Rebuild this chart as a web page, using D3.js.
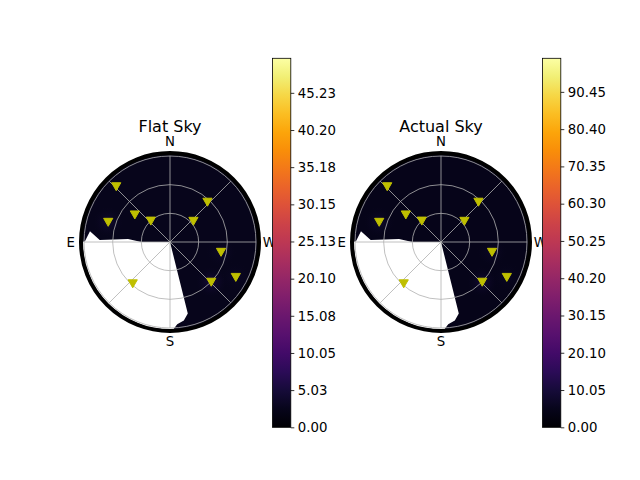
<!DOCTYPE html>
<html>
<head>
<meta charset="utf-8">
<script src="https://cdn.jsdelivr.net/npm/d3@7"></script>
<style>
  body { margin: 0; background: #fff; }
  text { font-family: "DejaVu Sans", sans-serif; fill: #000; }
</style>
</head>
<body>
<svg id="chart" width="640" height="480"></svg>
<script>
// star positions (azimuth deg from N through E, zenith angle deg)
const starAz  = [44, 317, 52, 72, 42, 312, 259, 242, 226, 138];
const starZen = [81, 57.5, 46.7, 68, 30, 33, 54.4, 78, 60, 58.3];

// obstructed horizon (white, no data) polygon, [azimuth, zenith]
const maskAz  = [0, 90, 86, 88.4, 82.3, 89.5, 90, 105, 120, 135, 150, 165, 180, 182, 185, 190, 194, 194];
const maskZen = [0, 30, 44, 73.6, 84.5, 89, 92, 92, 92, 92, 92, 92, 92, 92, 86.5, 83.5, 77, 0];

// panels
const titles   = ["Flat Sky", "Actual Sky"];
const vmax     = [49.9, 99.5];
const skyLevel = [2.4, 4.4];            // mean sky value in each map
const glowLevel = [                     // local brightening around stars
  [0, 0, 0, 4.5, 0, 0, 3.8, 3.2, 5.5, 0],
  [0, 0, 0, 8.5, 0, 0, 7, 6, 10, 0]
];
const cbTicks = [
  ["0.00", "5.03", "10.05", "15.08", "20.10", "25.13", "30.15", "35.18", "40.20", "45.23"],
  ["0.00", "10.05", "20.10", "30.15", "40.20", "50.25", "60.30", "70.35", "80.40", "90.45"]
];
const cardinals = [["N", 0], ["E", 90], ["S", 180], ["W", 270]];
const rGrid = [30, 60, 90];
const thetaGrid = [0, 45, 90, 135, 180, 225, 270, 315];

const svg = d3.select("#chart");
const defs = svg.append("defs");

const centers = [[170, 242], [441, 242]];
const cbX = [272.5, 542.5], cbW = 18.3, cbTop = 58.3, cbBottom = 427.3;

const r = d3.scaleLinear([0, 90], [0, 86]);
// screen angle for d3 radial generators: 0 = up, clockwise; E is on the left
const ang = az => -az * Math.PI / 180;
const px = (az, zen) => r(zen) * Math.sin(ang(az));
const py = (az, zen) => -r(zen) * Math.cos(ang(az));

titles.forEach((title, i) => {
  const color = d3.scaleSequential([0, vmax[i]], d3.interpolateInferno);
  const g = svg.append("g").attr("transform", `translate(${centers[i]})`);

  // sky map
  g.append("circle").attr("r", 89).attr("fill", color(skyLevel[i]));

  starAz.forEach((az, k) => {
    if (!glowLevel[i][k]) return;
    const id = `glow${i}_${k}`;
    const grad = defs.append("radialGradient").attr("id", id);
    grad.append("stop").attr("offset", "0%").attr("stop-color", color(glowLevel[i][k])).attr("stop-opacity", 0.9);
    grad.append("stop").attr("offset", "100%").attr("stop-color", color(skyLevel[i])).attr("stop-opacity", 0);
    g.append("circle")
      .attr("cx", px(az, starZen[k])).attr("cy", py(az, starZen[k]))
      .attr("r", 16).attr("fill", `url(#${id})`);
  });

  // masked region
  const maskLine = d3.lineRadial()
    .angle(d => ang(d[0]))
    .radius(d => r(d[1]))
    .curve(d3.curveLinearClosed);
  g.append("path")
    .attr("d", maskLine(d3.zip(maskAz, maskZen)))
    .attr("fill", "#fff");

  // grid
  g.append("g").selectAll("circle").data(rGrid).join("circle")
    .attr("r", d => r(d)).attr("fill", "none")
    .attr("stroke", "#b0b0b0").attr("stroke-width", 0.8);
  g.append("g").selectAll("line").data(thetaGrid).join("line")
    .attr("x2", d => px(d, 90)).attr("y2", d => py(d, 90))
    .attr("stroke", "#b0b0b0").attr("stroke-width", 0.8);

  // spine
  g.append("circle").attr("r", 89).attr("fill", "none")
    .attr("stroke", "#000").attr("stroke-width", 4);

  // stars
  g.append("g").selectAll("path").data(d3.zip(starAz, starZen)).join("path")
    .attr("transform", d => `translate(${px(d[0], d[1])},${py(d[0], d[1])})`)
    .attr("d", "M-4.6,-3.6L4.6,-3.6L0,4.4Z")
    .attr("fill", "#bfbf00").attr("stroke", "#bfbf00").attr("stroke-width", 1)
    .attr("stroke-linejoin", "miter");

  // cardinal labels
  g.append("g").selectAll("text").data(cardinals).join("text")
    .attr("x", d => px(d[1], 104))
    .attr("y", d => py(d[1], d[1] === 0 ? 105 : 104))
    .attr("dy", "0.36em")
    .attr("text-anchor", "middle")
    .attr("font-size", 13.3)
    .text(d => d[0]);

  // title
  svg.append("text")
    .attr("x", centers[i][0]).attr("y", 132)
    .attr("text-anchor", "middle")
    .attr("font-size", 16)
    .text(title);

  // colorbar
  const gid = `cb${i}`;
  const lg = defs.append("linearGradient").attr("id", gid)
    .attr("x1", 0).attr("y1", 1).attr("x2", 0).attr("y2", 0);
  d3.range(0, 1.0001, 0.05).forEach(t => {
    lg.append("stop").attr("offset", `${t * 100}%`).attr("stop-color", d3.interpolateInferno(t));
  });
  svg.append("rect")
    .attr("x", cbX[i]).attr("y", cbTop).attr("width", cbW).attr("height", cbBottom - cbTop)
    .attr("fill", `url(#${gid})`).attr("stroke", "#000").attr("stroke-width", 0.8);

  const y = d3.scaleLinear([0, vmax[i]], [cbBottom, cbTop]);
  const axis = d3.axisRight(y)
    .tickValues(cbTicks[i].map(Number))
    .tickFormat((d, k) => cbTicks[i][k])
    .tickSize(3.5).tickPadding(3.5);
  const ag = svg.append("g")
    .attr("transform", `translate(${cbX[i] + cbW},0)`)
    .call(axis);
  ag.select(".domain").remove();
  ag.selectAll("line").attr("stroke", "#000").attr("stroke-width", 0.8);
  ag.selectAll("text").attr("font-size", 13.3).attr("font-family", "DejaVu Sans, sans-serif");
});
</script>
</body>
</html>
